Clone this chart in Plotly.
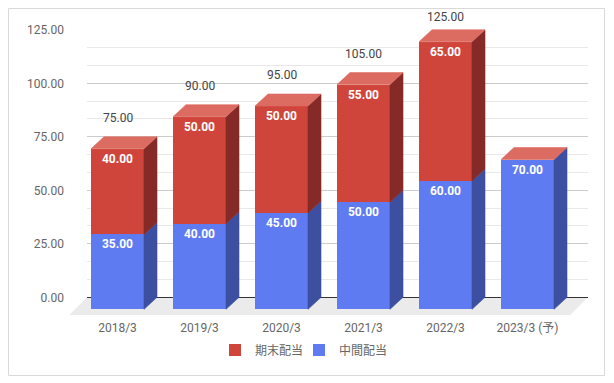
import plotly.graph_objects as go

# ---------------- data ----------------
categories = ["2018/3", "2019/3", "2020/3", "2021/3", "2022/3", "2023/3 (予)"]
interim = [35, 40, 45, 50, 60, 70]        # 中間配当
final = [40, 50, 50, 55, 65, 0]           # 期末配当
totals = [75, 90, 95, 105, 125, None]     # 合計（ラベル）
y_ticks = [0, 25, 50, 75, 100, 125]
series_names = ["中間配当", "期末配当"]

# ---------------- style / geometry ----------------
OFF = 8                                   # page body margin (px)
W, H = 614 - OFF, 383 - OFF
X0, SP, BW_PX = 117.5, 82.0, 53.0       # first bar centre, spacing, width (window px)
Y0, K = 309.3, 2.14                      # front zero line (px), px per unit
DX, DY = 13.0, 12.0                      # 3D depth offset (px)
FLOOR_FRONT = 315.0
WALL_L, WALL_R = 87.0, 588.0
LABEL_GAP = 19.0
FONT = "Roboto, 'Noto Sans CJK JP', sans-serif"

RED, RED_TOP, RED_SIDE = "#d0453b", "#dc6b61", "#852a26"
BLUE, BLUE_SIDE = "#5f7bf1", "#3c4fa0"

def fx(px):
    return (px - OFF) / W

def fy(py):
    return 1 - (py - OFF) / H

BW = BW_PX / SP
DXU = DX / SP
DYU = DY / K

fig = go.Figure()

# invisible trace so the back-wall axes are drawn
fig.add_trace(go.Scatter(x=[0, 1], y=[y_ticks[0], y_ticks[-1]], mode="markers",
                         marker=dict(opacity=0), showlegend=False, hoverinfo="skip",
                         xaxis="x", yaxis="y"))

# stacked front faces
fig.add_trace(go.Bar(
    x=list(range(len(categories))), y=interim, name=series_names[0], legend="legend2",
    marker=dict(color=BLUE, line=dict(width=0)), width=BW,
    text=[f"{v:.2f}" if v else "" for v in interim],
    textposition="inside", insidetextanchor="end", constraintext="none",
    textfont=dict(color="white", size=12, family=FONT, weight="bold"),
    xaxis="x2", yaxis="y2", hoverinfo="skip"))
fig.add_trace(go.Bar(
    x=list(range(len(categories))), y=final, name=series_names[1], legend="legend",
    marker=dict(color=RED, line=dict(width=0)), width=BW,
    text=[f"{v:.2f}" if v else "" for v in final],
    textposition="inside", insidetextanchor="end", constraintext="none",
    textfont=dict(color="white", size=12, family=FONT, weight="bold"),
    xaxis="x2", yaxis="y2", hoverinfo="skip"))

# side faces and top faces computed from the data
def side_poly(i, y0, y1):
    xr = i + BW / 2
    return [xr, xr + DXU, xr + DXU, xr, xr, None], [y0, y0 + DYU, y1 + DYU, y1, y0, None]

bx, by, rx, ry, tx, ty = [], [], [], [], [], []
for i, (a, b) in enumerate(zip(interim, final)):
    px_, py_ = side_poly(i, 0, a)
    bx += px_; by += py_
    if b:
        px_, py_ = side_poly(i, a, a + b)
        rx += px_; ry += py_
    top = a + b
    xl, xr = i - BW / 2, i + BW / 2
    tx += [xl, xl + DXU, xr + DXU, xr, xl, None]
    ty += [top, top + DYU, top + DYU, top, top, None]

for xs, ys, col in [(bx, by, BLUE_SIDE), (rx, ry, RED_SIDE), (tx, ty, RED_TOP)]:
    fig.add_trace(go.Scatter(x=xs, y=ys, mode="lines", fill="toself", fillcolor=col,
                             line=dict(color=col, width=0.6), showlegend=False,
                             hoverinfo="skip", xaxis="x2", yaxis="y2"))

# total labels (kept inside the visible page area)
for i, t in enumerate(totals):
    if t is None:
        continue
    shift = min(DY + LABEL_GAP, Y0 - t * K - (OFF + 9))
    fig.add_annotation(x=i, y=t, xref="x2", yref="y2", text=f"{t:.2f}",
                       showarrow=False, yshift=shift, xanchor="center", yanchor="middle",
                       font=dict(size=12, color="#444444", family=FONT))

# floor and chart border (decoration)
depth = FLOOR_FRONT - (Y0 - DY)
floor_path = (f"M {fx(WALL_L)} {fy(Y0 - DY)} L {fx(WALL_R)} {fy(Y0 - DY)} "
              f"L {fx(WALL_R - depth)} {fy(FLOOR_FRONT)} L {fx(WALL_L - depth)} {fy(FLOOR_FRONT)} Z")
fig.add_shape(type="path", path=floor_path, xref="paper", yref="paper",
              fillcolor="#ebebeb", line=dict(width=0), layer="below")
fig.add_shape(type="rect", x0=fx(8.5), x1=fx(604.5), y0=fy(375.5), y1=fy(8.5),
              xref="paper", yref="paper", line=dict(color="#d9d9d9", width=1),
              fillcolor="rgba(0,0,0,0)", layer="below")

legend_style = dict(orientation="h", y=fy(350), yanchor="middle", xanchor="left",
                    font=dict(size=12, color="#666666"), bgcolor="rgba(0,0,0,0)",
                    itemclick=False, borderwidth=0)

fig.update_layout(
    width=W, height=H, autosize=False,
    margin=dict(l=0, r=0, t=0, b=0, pad=0, autoexpand=False),
    paper_bgcolor="white", plot_bgcolor="rgba(0,0,0,0)",
    barmode="stack", bargap=0,
    font=dict(family=FONT, size=12, color="#666666"),
    showlegend=True,
    legend=dict(x=fx(215), **legend_style),
    legend2=dict(x=fx(299), **legend_style),
    # back wall
    xaxis=dict(domain=[fx(WALL_L), fx(WALL_R)], range=[0, 1], showgrid=False,
               showticklabels=False, zeroline=False, showline=False, fixedrange=True,
               automargin=False),
    yaxis=dict(domain=[fy(Y0 - DY), fy(Y0 - DY - 125 * K)], range=[0, 125],
               tickvals=y_ticks, ticktext=[f"{v:.2f}" for v in y_ticks],
               showgrid=True, gridcolor="#cccccc", gridwidth=1,
               minor=dict(tickmode="linear", tick0=0, dtick=25 / 3, showgrid=True,
                          gridcolor="#e8e8e8", gridwidth=1),
               zeroline=True, zerolinecolor="#333333", zerolinewidth=1,
               showline=False, ticks="", ticklabelstandoff=22, automargin=False,
               tickfont=dict(size=12, color="#666666"), fixedrange=True),
    # front plane
    xaxis2=dict(domain=[0, 1], range=[(OFF - X0) / SP, (OFF + W - X0) / SP], anchor="y2",
                tickvals=list(range(len(categories))), ticktext=categories,
                showgrid=False, zeroline=False, showline=False, automargin=False,
                ticks="outside", ticklen=2, tickcolor="rgba(0,0,0,0)",
                tickfont=dict(size=12, color="#666666"), fixedrange=True),
    yaxis2=dict(domain=[fy(FLOOR_FRONT), 1],
                range=[(Y0 - FLOOR_FRONT) / K, (Y0 - OFF) / K], automargin=False,
                anchor="x2", showgrid=False, zeroline=False, showticklabels=False,
                showline=False, fixedrange=True),
)

fig.write_html("out.html")
